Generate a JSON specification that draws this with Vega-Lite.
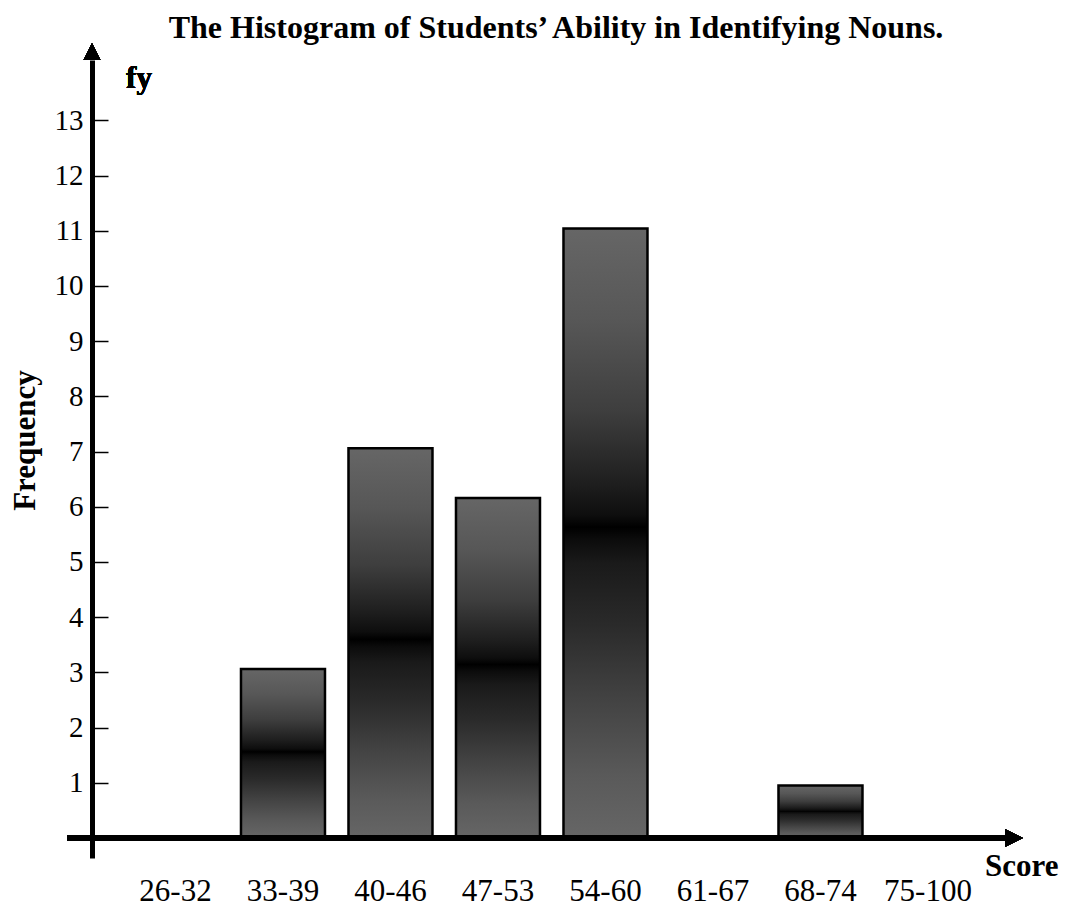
{
  "$schema": "https://vega.github.io/schema/vega-lite/v6.json",
  "width": 938,
  "height": 798,
  "autosize": {"type": "none"},
  "padding": {"left": 67, "top": 60, "right": 64, "bottom": 48},
  "background": "white",
  "config": {"view": {"stroke": null}, "font": "Liberation Serif"},
  "title": {
    "text": "The Histogram of Students’ Ability in Identifying Nouns.",
    "font": "Liberation Serif",
    "fontSize": 32,
    "fontWeight": "bold",
    "color": "black",
    "anchor": "middle",
    "frame": "group",
    "dx": 20,
    "dy": 31,
    "baseline": "alphabetic",
    "offset": 4
  },
  "data": {
    "values": [
      {"score": "26-32", "frequency": 0},
      {"score": "33-39", "frequency": 3.06},
      {"score": "40-46", "frequency": 7.06},
      {"score": "47-53", "frequency": 6.16},
      {"score": "54-60", "frequency": 11.04},
      {"score": "61-67", "frequency": 0},
      {"score": "68-74", "frequency": 0.95},
      {"score": "75-100", "frequency": 0}
    ]
  },
  "resolve": {"scale": {"x": "independent"}, "axis": {"x": "independent"}},
  "layer": [
    {
      "mark": {
        "type": "bar",
        "fill": {
          "gradient": "linear",
          "x1": 0, "y1": 0, "x2": 0, "y2": 1,
          "stops": [
            {"offset": 0, "color": "#666666"},
            {"offset": 0.15, "color": "#575757"},
            {"offset": 0.3, "color": "#3e3e3e"},
            {"offset": 0.42, "color": "#1e1e1e"},
            {"offset": 0.47, "color": "#0e0e0e"},
            {"offset": 0.49, "color": "#000000"},
            {"offset": 0.51, "color": "#0c0c0c"},
            {"offset": 0.55, "color": "#1a1a1a"},
            {"offset": 0.65, "color": "#2a2a2a"},
            {"offset": 0.78, "color": "#444444"},
            {"offset": 0.9, "color": "#5a5a5a"},
            {"offset": 1, "color": "#666666"}
          ]
        },
        "stroke": "black",
        "strokeWidth": 2.5
      },
      "encoding": {
        "x": {
          "field": "score",
          "type": "nominal",
          "sort": null,
          "scale": {"type": "band", "paddingInner": 0.2186, "paddingOuter": 0.4721, "align": 0.655},
          "axis": {
            "domain": false,
            "ticks": false,
            "grid": false,
            "labelFont": "Liberation Serif",
            "labelFontSize": 31,
            "labelColor": "black",
            "labelAngle": 0,
            "labelPadding": 42,
            "labelBaseline": "alphabetic",
            "labelOverlap": false,
            "title": "Score",
            "titleFont": "Liberation Serif",
            "titleFontSize": 31,
            "titleFontWeight": "bold",
            "titleColor": "black",
            "titleX": 991,
            "titleY": 17,
            "titleAlign": "right",
            "titleBaseline": "alphabetic"
          }
        },
        "y": {
          "field": "frequency",
          "type": "quantitative",
          "scale": {"domain": [-0.3623, 14.094], "nice": false, "zero": false},
          "axis": {
            "values": [1, 2, 3, 4, 5, 6, 7, 8, 9, 10, 11, 12, 13],
            "offset": -25,
            "grid": false,
            "domainWidth": 5,
            "domainColor": "black",
            "tickColor": "black",
            "tickWidth": 1.5,
            "tickSize": -16,
            "labelFont": "Liberation Serif",
            "labelFontSize": 29,
            "labelColor": "black",
            "labelPadding": 25,
            "labelAlign": "right",
            "labelBaseline": "middle",
            "title": "Frequency",
            "titleFont": "Liberation Serif",
            "titleFontSize": 31,
            "titleFontWeight": "bold",
            "titleColor": "black",
            "titleAngle": 270,
            "titleX": -58,
            "titleY": 380,
            "titleAlign": "center",
            "titleBaseline": "alphabetic"
          }
        }
      }
    },
    {
      "layer": [
        {
          "mark": {"type": "rule", "color": "black", "strokeWidth": 5},
          "encoding": {"y": {"datum": 0, "type": "quantitative"}}
        },
        {
          "mark": {"type": "point", "shape": "M0,-1L1,1L-1,1Z", "filled": true, "color": "black", "opacity": 1, "size": 289, "strokeWidth": 0},
          "encoding": {
            "x": {"datum": -0.7767, "type": "quantitative", "scale": {"domain": [-1.0093, 7.7163], "nice": false, "zero": false}, "axis": null},
            "y": {"datum": 14.248, "type": "quantitative"}
          }
        },
        {
          "mark": {"type": "point", "shape": "M1,0L-1,-1L-1,1Z", "filled": true, "color": "black", "opacity": 1, "size": 324, "strokeWidth": 0},
          "encoding": {
            "x": {"datum": 7.8, "type": "quantitative", "scale": {"domain": [-1.0093, 7.7163], "nice": false, "zero": false}, "axis": null},
            "y": {"datum": 0, "type": "quantitative"}
          }
        },
        {
          "mark": {"type": "text", "text": "fy", "font": "Liberation Serif", "fontSize": 31, "fontWeight": "bold", "color": "black", "align": "center", "baseline": "alphabetic"},
          "encoding": {
            "x": {"datum": -0.3395, "type": "quantitative", "scale": {"domain": [-1.0093, 7.7163], "nice": false, "zero": false}, "axis": null},
            "y": {"datum": 13.587, "type": "quantitative"}
          }
        }
      ]
    }
  ]
}
